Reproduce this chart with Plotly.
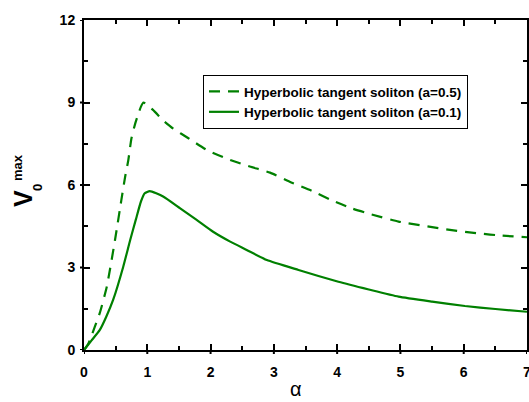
import plotly.graph_objects as go

# Data
alpha_a05 = [0, 0.07, 0.17, 0.25, 0.36, 0.49, 0.59, 0.65, 0.70, 0.75, 0.81, 0.86, 0.90, 0.94,
             1.09, 1.25, 1.41, 1.65, 1.96, 2.31, 2.62, 2.94, 3.25, 3.6, 3.91, 4.23, 4.54,
             4.97, 5.39, 5.81, 6.23, 6.6, 7.0]
v_a05 = [0, 0.24, 0.84, 1.35, 2.3, 4.0, 5.45, 6.3, 6.9, 7.7, 8.24, 8.6, 8.85, 9.0,
         8.73, 8.35, 8.05, 7.7, 7.25, 6.91, 6.67, 6.45, 6.12, 5.79, 5.45, 5.15, 4.93,
         4.67, 4.51, 4.36, 4.24, 4.16, 4.1]

alpha_a01 = [0, 0.04, 0.12, 0.25, 0.35, 0.46, 0.62, 0.73, 0.82, 0.90, 0.96, 1.04, 1.25, 1.52,
             1.78, 2.04, 2.31, 2.57, 2.89, 3.39, 4.02, 4.5, 4.97, 5.5, 6.02, 6.5, 7.0]
v_a01 = [0, 0.12, 0.35, 0.73, 1.2, 1.82, 3.03, 4.0, 4.75, 5.4, 5.7, 5.78, 5.58, 5.15,
         4.73, 4.3, 3.94, 3.64, 3.27, 2.91, 2.48, 2.2, 1.94, 1.76, 1.6, 1.49, 1.39]

names = ["Hyperbolic tangent soliton (a=0.5)", "Hyperbolic tangent soliton (a=0.1)"]
x_ticks = [0, 1, 2, 3, 4, 5, 6, 7]
y_ticks = [0, 3, 6, 9, 12]

GREEN = "#008000"
W, H = 529, 402
ML, MR, MT, MB = 84, 2, 20, 52
PW, PH = W - ML - MR, H - MT - MB


def px(xp):
    return (xp - ML) / PW


def py(yp):
    return (H - MB - yp) / PH


fig = go.Figure()
fig.add_trace(go.Scatter(x=alpha_a05, y=v_a05, mode="lines", name=names[0],
                         line=dict(color=GREEN, width=2.2, dash="11px,8px", shape="spline", smoothing=0.5)))
fig.add_trace(go.Scatter(x=alpha_a01, y=v_a01, mode="lines", name=names[1],
                         line=dict(color=GREEN, width=2.2, shape="spline", smoothing=0.5)))

tickfont = dict(family="Arial", size=14, color="black", weight="bold")
common = dict(showgrid=False, zeroline=False, automargin=False, ticklabeloverflow="allow",
              showline=True, linewidth=2, linecolor="black", mirror="ticks",
              ticks="inside", ticklen=6, tickwidth=2, tickcolor="black", tickfont=tickfont)

fig.update_layout(
    width=W, height=H,
    margin=dict(l=ML, r=MR, t=MT, b=MB, autoexpand=False),
    paper_bgcolor="white", plot_bgcolor="white",
    xaxis=dict(range=[0, 7], tickvals=x_ticks, ticktext=[str(v) for v in x_ticks],
               ticklabelstandoff=8,
               minor=dict(ticks="inside", ticklen=4, tickwidth=2, tickcolor="black", dtick=0.5, tick0=0),
               **common),
    yaxis=dict(range=[0, 12], tickvals=y_ticks, ticktext=[str(v) for v in y_ticks],
               ticklabelstandoff=4,
               minor=dict(ticks="inside", ticklen=4, tickwidth=2, tickcolor="black", dtick=1.5, tick0=0),
               **common),
    legend=dict(x=px(203), y=py(75), xanchor="left", yanchor="top",
                bgcolor="white", bordercolor="black", borderwidth=1,
                font=dict(family="Arial", size=13.5, color="black", weight="bold"),
                tracegroupgap=0, itemwidth=30),
    showlegend=True,
)

# outside stubs of the major ticks (ticks cross the bottom and left axes)
for t in x_ticks:
    fig.add_shape(type="line", xref="x", yref="paper", ysizemode="pixel", yanchor=0,
                  x0=t, x1=t, y0=-4, y1=0, line=dict(color="black", width=2))
for t in y_ticks:
    fig.add_shape(type="line", yref="y", xref="paper", xsizemode="pixel", xanchor=0,
                  y0=t, y1=t, x0=-4, x1=0, line=dict(color="black", width=2))

ann = [
    dict(text="α", x=px(296), y=py(389), font=dict(family="Arial", size=20, color="black")),
    dict(text="<b>V</b>", x=px(23), y=py(199), textangle=-90, font=dict(family="Arial", size=25, color="black")),
    dict(text="<b>0</b>", x=px(38), y=py(188), textangle=-90, font=dict(family="Arial", size=13, color="black")),
    dict(text="<b>max</b>", x=px(17), y=py(168), textangle=-90, font=dict(family="Arial", size=13, color="black")),
]
for a in ann:
    fig.add_annotation(xref="paper", yref="paper", showarrow=False, xanchor="center", yanchor="middle", **a)

fig.write_html("out.html", config={"displayModeBar": False},
               post_script="document.body.style.margin='0';document.body.style.overflow='hidden';")
